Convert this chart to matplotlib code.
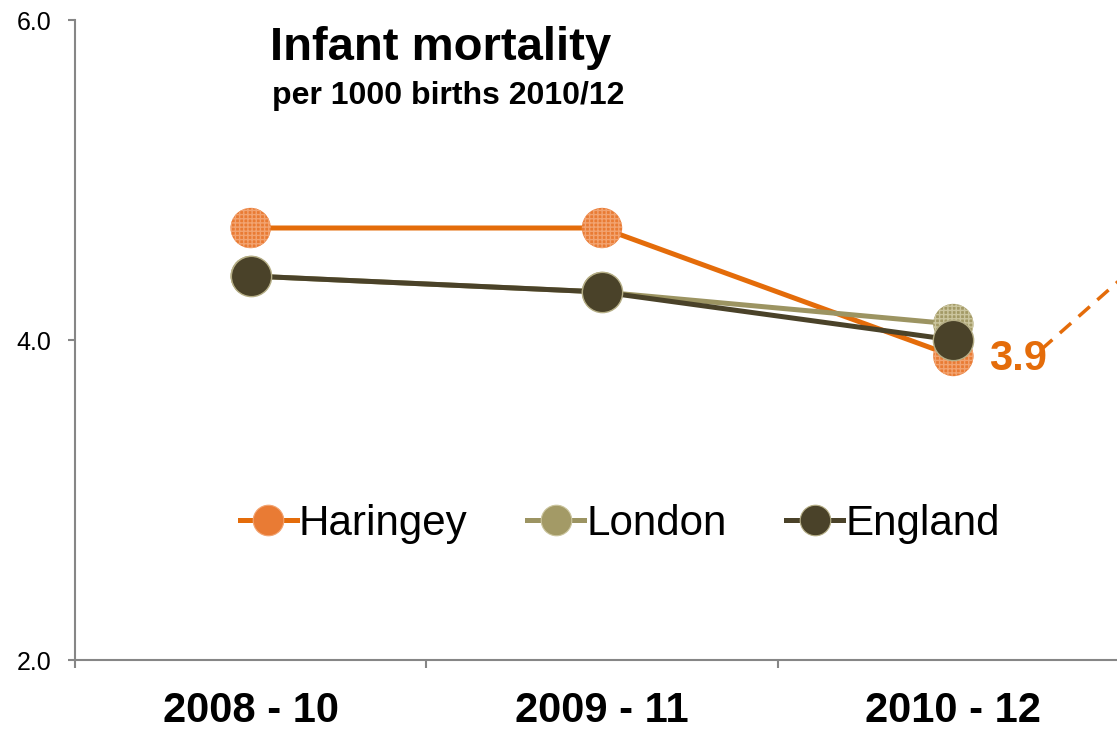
import matplotlib
matplotlib.use("Agg")
import matplotlib.pyplot as plt
import numpy as np

plt.rcParams["font.family"] = ["Liberation Sans", "DejaVu Sans"]

# Three-year rolling periods and rates per 1000 births
periods = ["2008 - 10", "2009 - 11", "2010 - 12"]
haringey = [4.7, 4.7, 3.9]
london = [4.4, 4.3, 4.1]
england = [4.4, 4.3, 4.0]
latest_label = "3.9"

# leader line running off to the right of the last point
leader_x = [2.25, 2.6]
leader_y = [3.94, 4.62]

series = [
    ("Haringey", haringey, "#E46C0A", "#E97B34", "#F2A370"),
    ("London", london, "#9C9462", "#A39A66", "#CBC59E"),
    ("England", england, "#4A4229", "#4A4229", "#B5AE86"),
]

fig = plt.figure(figsize=(11.17, 7.30), dpi=100)
ax = fig.add_axes([75 / 1117, 70 / 730, 1054 / 1117, 640 / 730])

x = np.arange(len(periods))
handles = []
for name, vals, line_c, face_c, hatch_c in series:
    ax.plot(x, vals, color=line_c, lw=3.6, zorder=2, solid_capstyle="butt")
    if name == "England":
        ax.scatter(x, vals, s=29 ** 2, color=face_c, edgecolor=hatch_c,
                   linewidth=1.0, zorder=3)
    else:
        ax.scatter(x, vals, s=29 ** 2, facecolor=face_c, edgecolor=hatch_c,
                   linewidth=0, hatch="++++", zorder=3)
    h, = ax.plot([], [], color=line_c, lw=3.6, marker="o", markersize=22,
                 markerfacecolor=face_c, markeredgecolor=hatch_c,
                 markeredgewidth=0.8, label=name)
    handles.append(h)

ax.plot(leader_x, leader_y, color="#E46C0A", lw=2.5, ls=(0, (4.3, 2.9)),
        clip_on=False, zorder=1)
ax.annotate(latest_label, (x[-1], haringey[-1]), xytext=(26, -2),
            textcoords="offset points", color="#E46C0A", fontsize=30,
            fontweight="bold", va="center", ha="left")

ax.set_xlim(-0.5, 2.5)
ax.set_ylim(2.0, 6.0)
ax.set_yticks([2.0, 4.0, 6.0])
ax.set_yticklabels(["2.0", "4.0", "6.0"])
ax.set_xticks([-0.5, 0.5, 1.5, 2.5])
ax.set_xticklabels([])
ax.set_xticks(x, minor=True)
ax.set_xticklabels(periods, minor=True, fontsize=30, fontweight="bold")

for side in ("top", "right"):
    ax.spines[side].set_visible(False)
for side in ("left", "bottom"):
    ax.spines[side].set_color("#868686")
    ax.spines[side].set_linewidth(1.5)
ax.tick_params(axis="y", direction="out", length=5, width=1.5,
               color="#868686", labelsize=18, pad=12)
ax.tick_params(axis="x", which="major", direction="out", length=6,
               width=1.5, color="#868686")
ax.tick_params(axis="x", which="minor", length=0, pad=22)

ax.text(0.185, 0.9375, "Infant mortality", transform=ax.transAxes,
        fontsize=34, fontweight="bold", va="baseline")
ax.text(0.187, 0.869, "per 1000 births 2010/12", transform=ax.transAxes,
        fontsize=23, fontweight="bold", va="baseline")

ax.legend(handles=handles, loc="center left", bbox_to_anchor=(0.1565, 0.213),
          ncol=3, frameon=False, fontsize=30.3, handlelength=1.35,
          handletextpad=0.05, columnspacing=1.42, markerscale=1.0,
          borderaxespad=0, borderpad=0)

fig.savefig("out.png", dpi=100)
